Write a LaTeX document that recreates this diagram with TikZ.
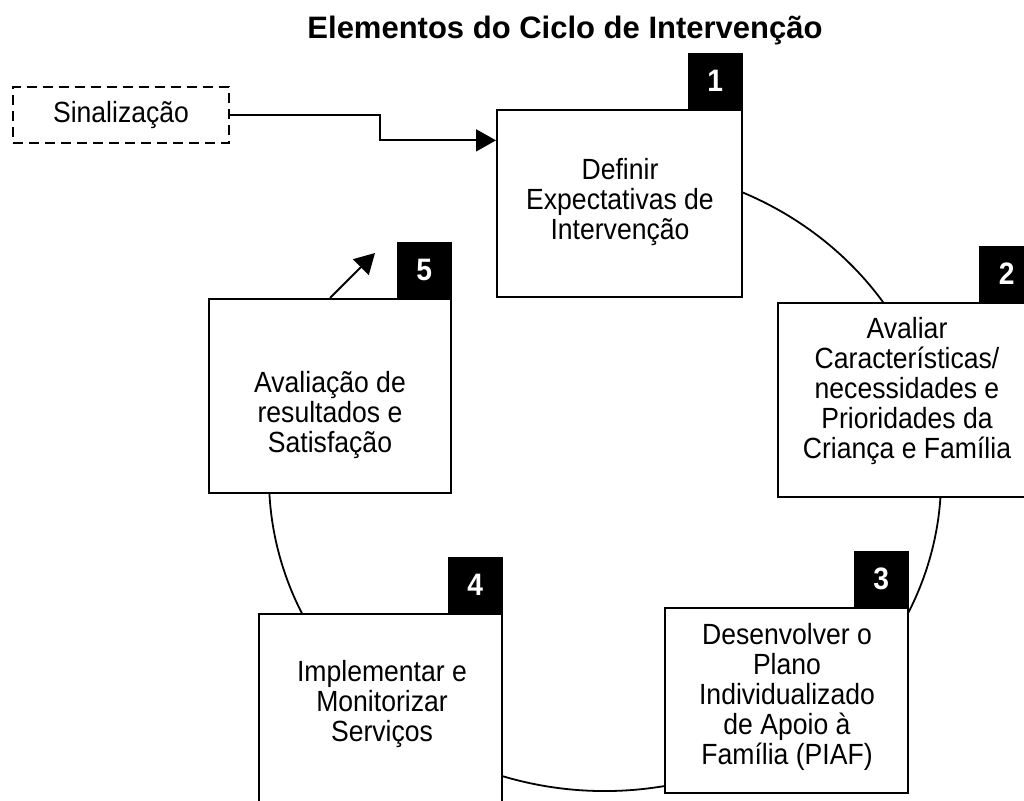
\documentclass[tikz,border=0pt]{standalone}
\usepackage{fontspec}
\setmainfont{Liberation Sans}[FakeStretch=0.91]
\newfontfamily\titlefont{Liberation Sans}
\usepackage{tikz}
\usetikzlibrary{positioning, calc, arrows.meta}
\tikzstyle{Link} = [
	line width=0.9pt,
	-{Triangle[length=10pt, width=11pt]}
	]

\begin{document}
\begin{tikzpicture}[x=0.5pt, y=-0.5pt,
stage/.style={rectangle, draw, line width=1pt, fill=white},
num/.style={rectangle, fill=black, text=white, anchor=south east,
    minimum width=27.5pt, minimum height=28pt, inner sep=0pt,
    font=\fontsize{15.5}{17}\selectfont\bfseries},
caption/.style={align=center, font=\fontsize{14.6}{15}\selectfont}
]
 \useasboundingbox (0,0) rectangle (1024,801);
 \clip (0,0) rectangle (1024,801);

 \node [font=\titlefont\fontsize{15.5}{18}\selectfont\bfseries, anchor=base] (title) at (565,39) {Elementos do Ciclo de Intervenção};

 % the cycle
 \coordinate (ctr) at (605,478);
 \draw[line width=0.9pt] ([shift={(-100:336 and 313)}]ctr) arc[start angle=-100, end angle=215, x radius=336, y radius=313];

 % stages
 \node [stage, minimum width=122.5pt, minimum height=93.5pt] (b1) at (619.5,203.5) {};
 \node [stage, minimum width=128pt, minimum height=97pt] (b2) at (905.5,400) {};
 \node [stage, minimum width=121.5pt, minimum height=92.5pt] (b3) at (786.5,700.5) {};
 \node [stage, minimum width=121.5pt, minimum height=103pt] (b4) at (380.5,717) {};
 \node [stage, minimum width=121pt, minimum height=97pt] (b5) at (330,396) {};

 \node [num] (n1) at (b1.north east) {1};
 \node [num] (n2) at (b2.north east) {2};
 \node [num] (n3) at (b3.north east) {3};
 \node [num] (n4) at (b4.north east) {4};
 \node [num] (n5) at (b5.north east) {5};

 \node [caption] (t1) at (620,202) {Definir\\Expectativas de\\Intervenção};
 \node [caption] (t2) at (907,391) {Avaliar\\Características/\\necessidades e\\Prioridades da\\Criança e Família};
 \node [caption] (t3) at (787,697) {Desenvolver o\\Plano\\Individualizado\\de Apoio à\\Família (PIAF)};
 \node [caption] (t4) at (382,704) {Implementar e\\Monitorizar\\Serviços};
 \node [caption] (t5) at (330,415) {Avaliação de\\resultados e\\Satisfação};

 % signalling
 \node [draw, dash pattern=on 5pt off 3pt, line width=0.9pt, minimum width=108pt, minimum height=28pt, font=\fontsize{14.6}{16}\selectfont] (sig) at (121,115) {Sinalização};

 \coordinate (entry) at ($(b1.north west)!0.166!(b1.south west)$);
 \coordinate (bend) at (380,0);
 \coordinate (ret) at (375,253);

 \draw[Link] (sig.east) -- (sig.east -| bend) |- (entry);
 \draw[Link] (b5.north) -- (ret);

\end{tikzpicture}
\end{document}
